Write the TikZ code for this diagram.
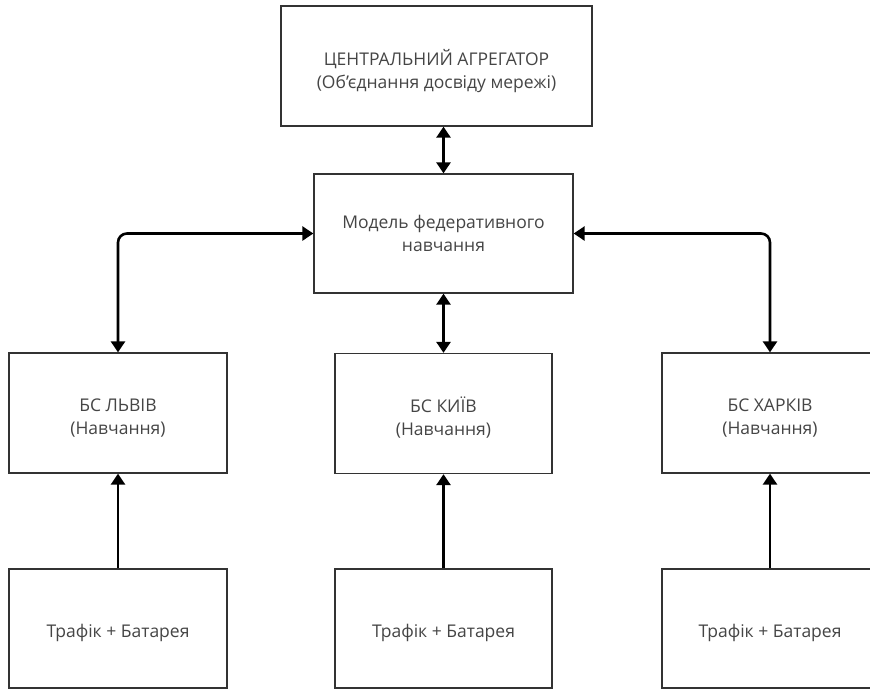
\documentclass[tikz,border=0pt]{standalone}
\usepackage{fontspec}
\setmainfont{Open Sans}
\usetikzlibrary{arrows.meta}
\definecolor{txt}{HTML}{454545}
\definecolor{edge}{HTML}{333333}
\newcommand{\liftline}[1]{\rule{0pt}{#1}}
\begin{document}
\begin{tikzpicture}[x=1pt,y=-1pt,
  box/.style={draw=edge, line width=1.3pt, fill=white, align=center, text=txt,
    font=\fontsize{17.5}{23}\selectfont, inner sep=0pt},
  conn/.style={line width=2.6pt, black,
    arrows={-{Triangle[width=14pt,length=11pt]}}},
  biconn/.style={line width=2.6pt, black,
    arrows={{Triangle[width=14pt,length=11pt]}-{Triangle[width=14pt,length=11pt]}}}
]
\path[use as bounding box] (0,0) rectangle (870,689);
\clip (0,0) rectangle (870,689);
\fill[white] (0,0) rectangle (870,689);

\node[box, minimum width=311pt, minimum height=120pt] (top) at (436.5,66)
  {\liftline{26pt}ЦЕНТРАЛЬНИЙ АГРЕГАТОР\\(Об’єднання досвіду мережі)};
\node[box, minimum width=259pt, minimum height=119pt] (fed) at (443.5,233.5)
  {Модель федеративного\\навчання};

\node[box, minimum width=218pt, minimum height=120pt] (lviv) at (118,413)
  {\liftline{23pt}БС ЛЬВІВ\\(Навчання)};
\node[box, minimum width=217pt, minimum height=120pt] (kyiv) at (443.5,413.5)
  {\liftline{23pt}БС КИЇВ\\(Навчання)};
\node[box, minimum width=216pt, minimum height=120pt] (khar) at (770,413)
  {\liftline{23pt}БС ХАРКІВ\\(Навчання)};

\node[box, minimum width=218pt, minimum height=119pt] (tl) at (118,628.5)
  {\liftline{23pt}Трафік + Батарея};
\node[box, minimum width=217pt, minimum height=119pt] (tk) at (443.5,628.5)
  {\liftline{23pt}Трафік + Батарея};
\node[box, minimum width=216pt, minimum height=119pt] (th) at (770,628.5)
  {\liftline{23pt}Трафік + Батарея};

\draw[biconn] (fed.north |- top.south) -- (fed.north);
\draw[biconn, rounded corners=9pt] (fed.west) -| (lviv.north);
\draw[biconn, rounded corners=9pt] (fed.east) -| (khar.north);
\draw[biconn] (fed.south) -- (kyiv.north);

\draw[conn] (tl.north) -- (lviv.south);
\draw[conn] (tk.north) -- (kyiv.south);
\draw[conn] (th.north) -- (khar.south);
\end{tikzpicture}
\end{document}
